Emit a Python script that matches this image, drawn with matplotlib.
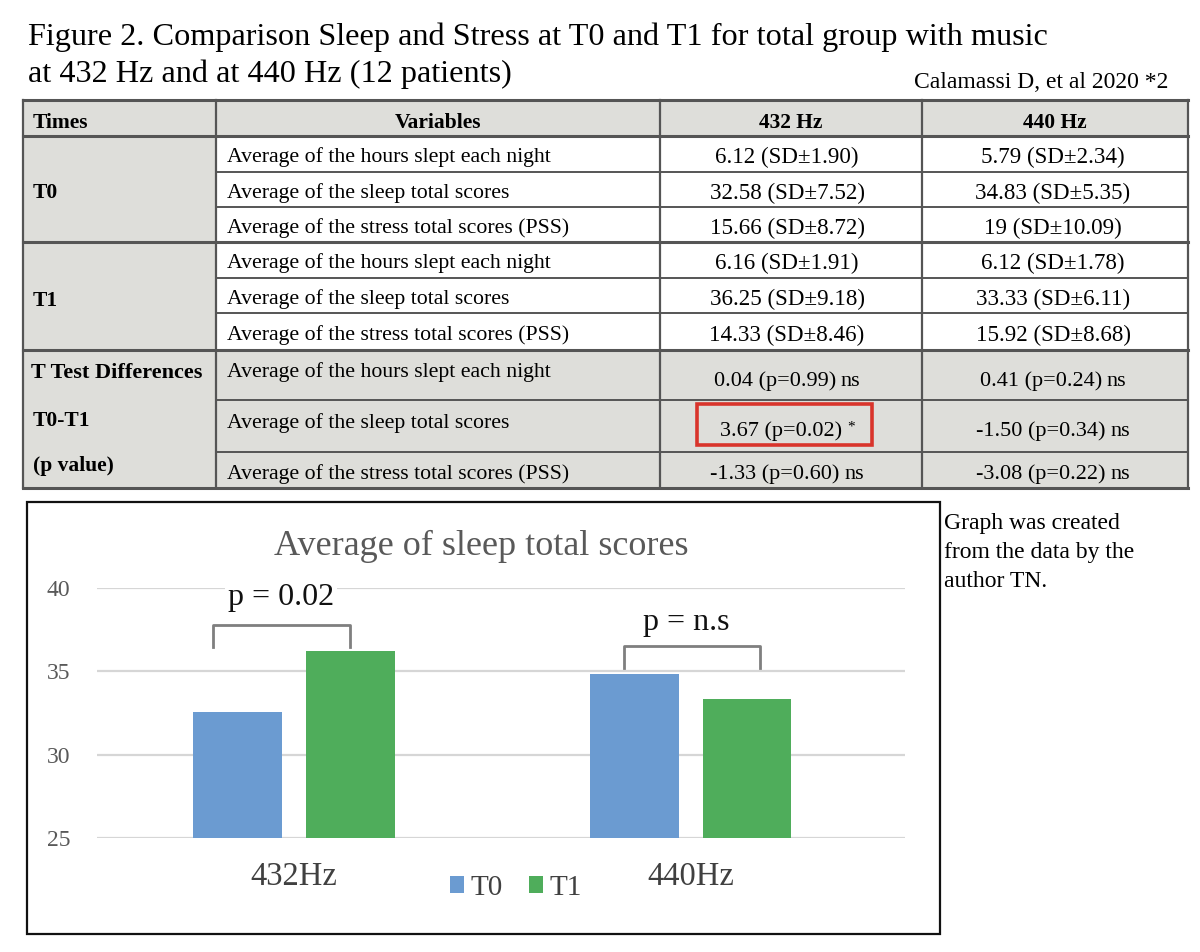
import matplotlib
matplotlib.use("Agg")
import matplotlib.pyplot as plt
from matplotlib.patches import Rectangle

plt.rcParams["font.family"] = ["Liberation Serif", "DejaVu Serif"]

# --- data ---
title_lines = ["Figure 2. Comparison Sleep and Stress at T0 and T1 for total group with music",
               "at 432 Hz and at 440 Hz (12 patients)"]
source_note = "Calamassi D, et al 2020 *2"
header = ["Times", "Variables", "432 Hz", "440 Hz"]
variables = ["Average of the hours slept each night",
             "Average of the sleep total scores",
             "Average of the stress total scores (PSS)"]
t0_432 = ["6.12 (SD±1.90)", "32.58 (SD±7.52)", "15.66 (SD±8.72)"]
t0_440 = ["5.79 (SD±2.34)", "34.83 (SD±5.35)", "19 (SD±10.09)"]
t1_432 = ["6.16 (SD±1.91)", "36.25 (SD±9.18)", "14.33 (SD±8.46)"]
t1_440 = ["6.12 (SD±1.78)", "33.33 (SD±6.11)", "15.92 (SD±8.68)"]
diff_432 = [("0.04 (p=0.99)", "ns"), ("3.67 (p=0.02)", "*"), ("-1.33 (p=0.60)", "ns")]
diff_440 = [("0.41 (p=0.24)", "ns"), ("-1.50 (p=0.34)", "ns"), ("-3.08 (p=0.22)", "ns")]
side_note = "Graph was created\nfrom the data by the\nauthor TN."

groups = ["432Hz", "440Hz"]
series = ["T0", "T1"]
sleep_t0 = [32.58, 34.83]
sleep_t1 = [36.25, 33.33]
p_labels = ["p = 0.02", "p = n.s"]

blue = "#6b9bd1"
green = "#4fad5b"
gray_fill = "#dededa"
line_col = "#555555"

fig = plt.figure(figsize=(12, 9.52), dpi=100)
cv = fig.add_axes([0, 0, 1, 1])
cv.set_xlim(0, 1200)
cv.set_ylim(952, 0)
cv.axis("off")
renderer = fig.canvas.get_renderer()


def two_part(xc, y, main, suffix, size=16):
    # main value plus its "ns" / "*" mark, centred as a whole on xc
    small = size if suffix == "ns" else 11
    t1 = cv.text(0, y, main, fontsize=size, va="center_baseline")
    t2 = cv.text(0, y - (0 if suffix == "ns" else 3), suffix, fontsize=small, va="center_baseline")
    w1 = t1.get_window_extent(renderer).width
    w2 = t2.get_window_extent(renderer).width
    gap = 5
    x0 = xc - (w1 + gap + w2) / 2
    t1.set_x(x0)
    t2.set_x(x0 + w1 + gap)


# title
cv.text(28, 45, title_lines[0], fontsize=23.2, va="baseline", ha="left")
cv.text(28, 82, title_lines[1], fontsize=23.2, va="baseline", ha="left")
cv.text(1168, 88, source_note, fontsize=17, va="baseline", ha="right")

# table geometry
xs = [23, 216, 660, 922, 1188]
rows_y = [100, 136, 172, 207, 242, 278, 313, 350, 400, 452, 488]
thick = (100, 136, 242, 350, 488)

# fills
cv.add_patch(Rectangle((xs[0], rows_y[0]), xs[4] - xs[0], rows_y[1] - rows_y[0], color=gray_fill, lw=0))
cv.add_patch(Rectangle((xs[0], rows_y[1]), xs[1] - xs[0], rows_y[7] - rows_y[1], color=gray_fill, lw=0))
cv.add_patch(Rectangle((xs[0], rows_y[7]), xs[4] - xs[0], rows_y[10] - rows_y[7], color=gray_fill, lw=0))

# lines
for y in rows_y:
    lw = 2.2 if y in thick else 1.4
    x0 = xs[0] if y in thick else xs[1]
    cv.plot([x0, xs[4]], [y, y], color=line_col, lw=lw)
for x in xs:
    cv.plot([x, x], [rows_y[0], rows_y[-1]], color=line_col, lw=1.6)

# header text
hsize = 15.5
cv.text(33, 120, header[0], fontsize=hsize, fontweight="bold", va="center_baseline")
for i in range(1, 4):
    cv.text((xs[i] + xs[i + 1]) / 2, 120, header[i], fontsize=hsize, fontweight="bold",
            va="center_baseline", ha="center")

# body text
vsize = 15.7
valsize = 16.6
blocks = [(t0_432, t0_440, 1), (t1_432, t1_440, 4)]
for c432, c440, r0 in blocks:
    for k in range(3):
        yc = (rows_y[r0 + k] + rows_y[r0 + k + 1]) / 2 + 1
        cv.text(227, yc, variables[k], fontsize=vsize, va="center_baseline")
        cv.text((xs[2] + xs[3]) / 2 - 4, yc, c432[k], fontsize=valsize, va="center_baseline", ha="center")
        cv.text((xs[3] + xs[4]) / 2 - 2, yc, c440[k], fontsize=valsize, va="center_baseline", ha="center")
cv.text(33, 191, "T0", fontsize=hsize, fontweight="bold", va="center_baseline")
cv.text(33, 298, "T1", fontsize=hsize, fontweight="bold", va="center_baseline")

var_y = [370, 421, 472]
val_y = [379, 429, 472]
for k in range(3):
    cv.text(227, var_y[k], variables[k], fontsize=vsize, va="center_baseline")
    two_part((xs[2] + xs[3]) / 2 - 4, val_y[k], *diff_432[k])
    two_part((xs[3] + xs[4]) / 2 - 2, val_y[k], *diff_440[k])
cv.text(31, 370, "T Test Differences", fontsize=16, fontweight="bold", va="center_baseline")
cv.text(33, 419, "T0-T1", fontsize=hsize, fontweight="bold", va="center_baseline")
cv.text(33, 464, "(p value)", fontsize=hsize, fontweight="bold", va="center_baseline")
cv.add_patch(Rectangle((697, 404), 175, 41, fill=False, ec="#d9342b", lw=2.6))

# chart frame + side note
cv.add_patch(Rectangle((27, 502), 913, 432, fill=False, ec="#111111", lw=1.6))
cv.text(944, 513, side_note, fontsize=17, va="top", ha="left", linespacing=1.5)

# --- bar chart ---
ax = fig.add_axes([97 / 1200, 1 - 838 / 952, (905 - 97) / 1200, (838 - 588) / 952])
ax.set_xlim(-0.496, 1.54)
ax.set_ylim(25, 40)
w = 0.224
off = 0.142
xpos = list(range(len(groups)))
ax.bar([x - off for x in xpos], [v - 25 for v in sleep_t0], w, bottom=25, color=blue, label=series[0], zorder=3)
ax.bar([x + off for x in xpos], [v - 25 for v in sleep_t1], w, bottom=25, color=green, label=series[1], zorder=3)
ax.set_yticks([25, 30, 35, 40])
ax.yaxis.grid(True, color="#d6d6d6", lw=1.6, zorder=0)
ax.set_xticks(xpos)
ax.set_xticklabels(groups, fontsize=23.5, color="#404040")
ax.tick_params(axis="x", length=0, pad=17)
ax.tick_params(axis="y", length=0, labelsize=17, labelcolor="#595959", pad=19)
for s in ax.spines.values():
    s.set_visible(False)
ax.set_facecolor("none")

# brackets and p labels
br_left = [-0.204, -0.169]
br_right = [0.141, 0.174]
br_top = [37.78, 36.5]
br_leg = [36.45, 35.18]
lab_y = [39.4, 37.95]
lab_x = [-0.033, -0.012]
for i in range(2):
    ax.plot([xpos[i] + br_left[i], xpos[i] + br_left[i], xpos[i] + br_right[i], xpos[i] + br_right[i]],
            [br_leg[i], br_top[i], br_top[i], br_leg[i]], color="#7f7f7f", lw=2, clip_on=False, zorder=4)
    ax.text(xpos[i] + lab_x[i], lab_y[i], p_labels[i], fontsize=23, ha="center", va="center",
            color="#111111", zorder=5, bbox=dict(fc="white", ec="none", pad=2))

ax.text(0.475, 1.165, "Average of sleep total scores", transform=ax.transAxes, fontsize=26,
        color="#595959", ha="center", va="center")

leg = ax.legend(loc="center", bbox_to_anchor=(0.518, -0.2), ncol=2, frameon=False,
                fontsize=21, handlelength=0.5, handleheight=0.5, handletextpad=0.2,
                columnspacing=0.9, labelcolor="#404040")

fig.savefig("out.png", dpi=100)
